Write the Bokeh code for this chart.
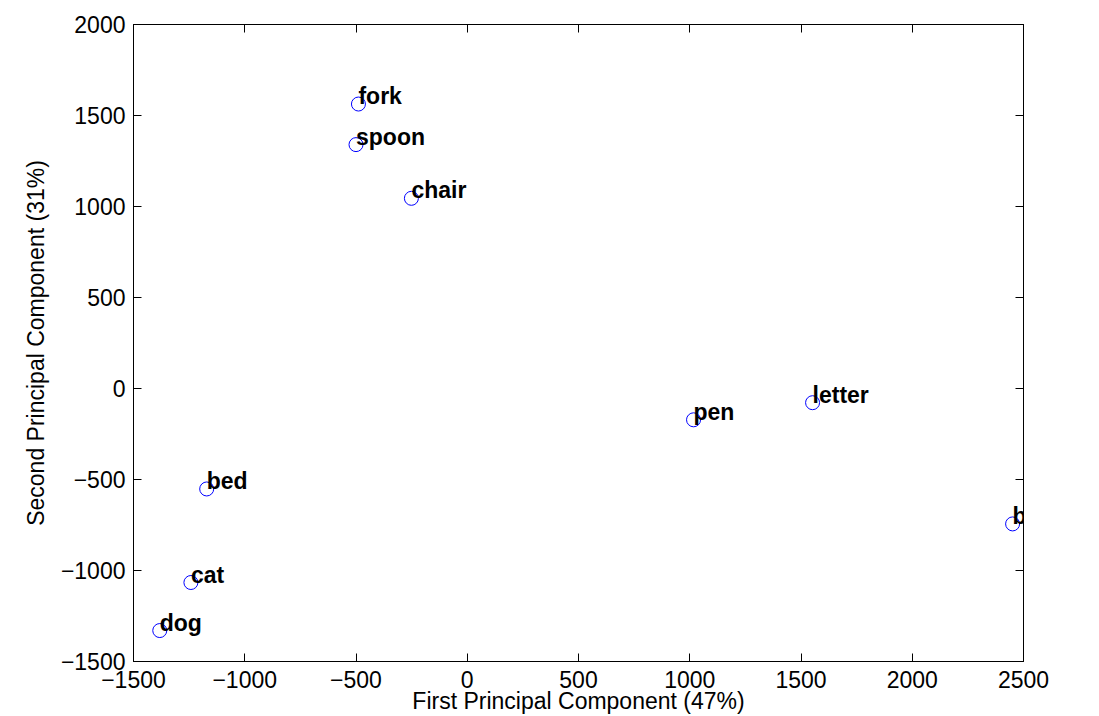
from bokeh.plotting import figure
from bokeh.models import ColumnDataSource, FixedTicker, LinearAxis, Range1d, LabelSet
from bokeh.core.properties import value
from bokeh.embed import file_html
from bokeh.resources import INLINE

# PCA projection of word vectors
words = ["fork", "spoon", "chair", "pen", "letter", "book", "bed", "cat", "dog"]
pc1 = [-489, -500, -251, 1017, 1552, 2451, -1171, -1242, -1382]
pc2 = [1563, 1340, 1045, -172, -78, -744, -552, -1066, -1330]

x_ticks = [-1500, -1000, -500, 0, 500, 1000, 1500, 2000, 2500]
y_ticks = [-1500, -1000, -500, 0, 500, 1000, 1500, 2000]
x_label = "First Principal Component (47%)"
y_label = "Second Principal Component (31%)"

FONT = "Liberation Sans"
FS = "23px"


def tick_text(v):
    return str(v).replace("-", "\u2212")


src = ColumnDataSource(dict(x=pc1, y=pc2, word=words))

p = figure(width=1099, height=716, output_backend="svg", toolbar_location=None,
           x_range=Range1d(-1500, 2500), y_range=Range1d(-1500, 2000),
           min_border_left=133, min_border_right=76, min_border_top=24,
           min_border_bottom=54, x_axis_label=x_label, y_axis_label=y_label)
p.background_fill_color = "white"
p.border_fill_color = "white"
p.outline_line_color = "black"
p.outline_line_width = 1
p.xgrid.visible = False
p.ygrid.visible = False

# open blue circles for each word
p.scatter("x", "y", source=src, marker="circle", size=14,
          fill_color=None, line_color="#0000ff", line_width=1)

# bold word labels, baseline at the point, starting at its centre
labels = LabelSet(x="x", y="y", text="word", source=src,
                  text_font=value(FONT), text_font_style="bold",
                  text_font_size=FS, text_color="black",
                  text_align="left", text_baseline="alphabetic",
                  x_offset=0, y_offset=0)
p.add_layout(labels)


def style_axis(ax, ticks, show_labels):
    ax.ticker = FixedTicker(ticks=ticks)
    ax.major_tick_in = 8
    ax.major_tick_out = 0
    ax.minor_tick_line_color = None
    ax.major_tick_line_color = "black"
    ax.axis_line_color = "black"
    ax.major_label_text_font = FONT
    ax.major_label_text_font_size = FS
    ax.major_label_text_color = "black"
    ax.axis_label_text_font = FONT
    ax.axis_label_text_font_size = FS
    ax.axis_label_text_font_style = "normal"
    ax.axis_label_text_color = "black"
    if show_labels:
        ax.major_label_overrides = {t: tick_text(t) for t in ticks}
    else:
        ax.major_label_overrides = {t: "" for t in ticks}
        ax.major_label_standoff = 0


style_axis(p.xaxis[0], x_ticks, True)
style_axis(p.yaxis[0], y_ticks, True)
p.xaxis[0].major_label_standoff = 9
p.xaxis[0].axis_label_standoff = -3
p.yaxis[0].major_label_standoff = 8
p.yaxis[0].axis_label_standoff = 9

# tick marks on the top and right edges to close the box
top_ax = LinearAxis()
right_ax = LinearAxis()
style_axis(top_ax, x_ticks, False)
style_axis(right_ax, y_ticks, False)
p.add_layout(top_ax, "above")
p.add_layout(right_ax, "right")

open("out.html", "w").write(file_html(p, INLINE))
